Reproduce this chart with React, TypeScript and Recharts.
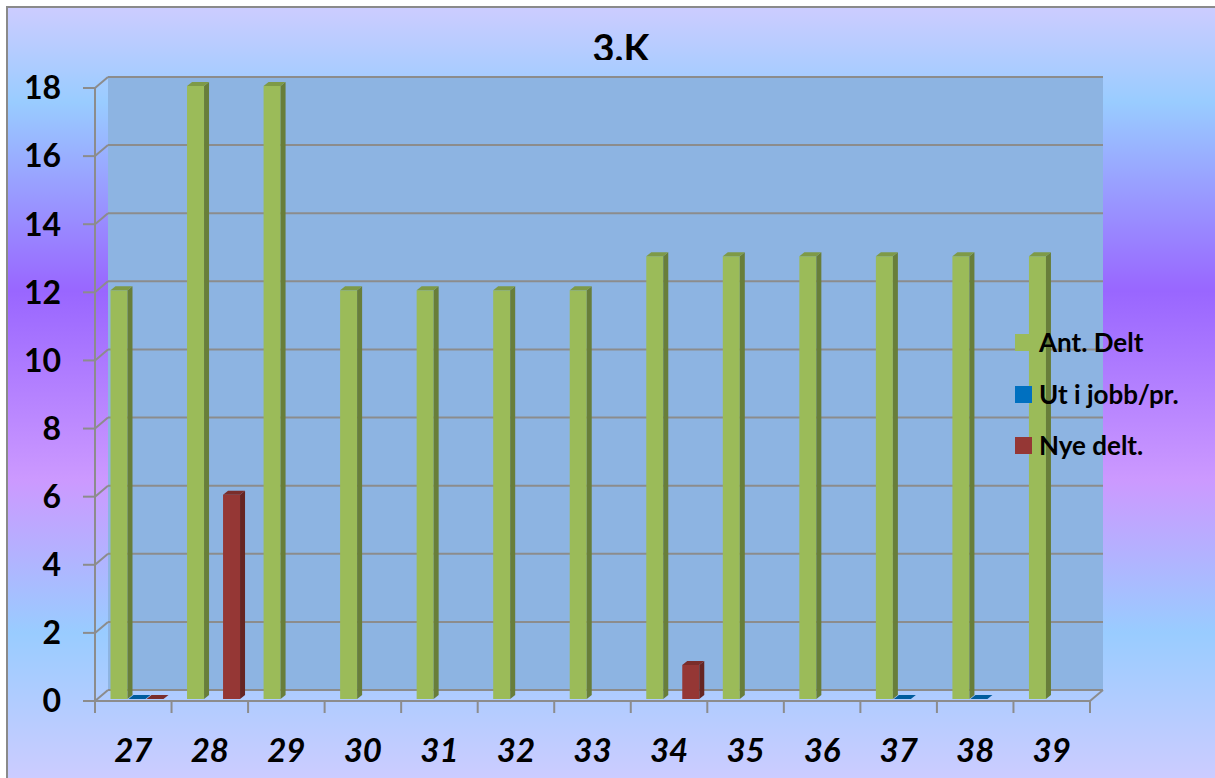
import React from 'react';
import { BarChart, Bar, XAxis, YAxis, CartesianGrid } from 'recharts';

// Weeks on the x axis
const WEEKS = ['27', '28', '29', '30', '31', '32', '33', '34', '35', '36', '37', '38', '39'];
const Y_TICKS = [0, 2, 4, 6, 8, 10, 12, 14, 16, 18];

// Series values (null = no bar drawn at all)
const ANT_DELT = [12, 18, 18, 12, 12, 12, 12, 13, 13, 13, 13, 13, 13];
const UT_I_JOBB = [0, null, null, null, null, null, null, null, null, null, 0, 0, null];
const NYE_DELT = [0, 6, null, null, null, null, null, 1, null, null, null, null, null];

const SERIES = [
  { key: 'antDelt', name: 'Ant. Delt', values: ANT_DELT, front: '#9BBB59', side: '#687E3A', top: '#7E9A47' },
  { key: 'utIJobb', name: 'Ut i jobb/pr.', values: UT_I_JOBB, front: '#0070C0', side: '#004E86', top: '#005C9E' },
  { key: 'nyeDelt', name: 'Nye delt.', values: NYE_DELT, front: '#953735', side: '#652523', top: '#7A2D2B' },
];

const data = WEEKS.map((w, i) => {
  const row: any = { week: w };
  SERIES.forEach((s) => { row[s.key] = s.values[i]; });
  return row;
});

const FONT = 'Lato, "Open Sans", sans-serif';
const GRID = '#8c8c8c';

// chart geometry (svg coords)
const CHART_W = 1207;
const CHART_H = 770;
const PLOT_L = 87;
const PLOT_R = 1082;
const PLOT_T = 80;
const PLOT_B = 693;
const DX = 13; // depth offset of back wall
const DY = 11;
const BAND = (PLOT_R - PLOT_L) / WEEKS.length;

const makeShape = (s: typeof SERIES[number]) => (props: any) => {
  const { x, y, width, height, payload } = props;
  const v = payload ? payload[s.key] : null;
  if (v == null || isNaN(x) || isNaN(y)) return <g />;
  const fx = x + 4.5;
  const w = width - 1;
  const top = y - 2;
  const bottom = y + height - 2;
  const d = 5;
  const t = 4;
  return (
    <g>
      {height > 0 && <rect x={fx} y={top} width={w} height={bottom - top} fill={s.front} />}
      {height > 0 && (
        <polygon
          points={`${fx + w},${top} ${fx + w + d},${top - t} ${fx + w + d},${bottom - t} ${fx + w},${bottom}`}
          fill={s.side}
        />
      )}
      <polygon
        points={`${fx},${top} ${fx + w},${top} ${fx + w + d},${top - t} ${fx + d},${top - t}`}
        fill={s.top}
      />
    </g>
  );
};

const gridLine = (props: any) => {
  const { x1, x2, y1, key } = props;
  const y = y1;
  const isBase = Math.abs(y - PLOT_B) < 1;
  return (
    <g key={key}>
      <line x1={x1 + DX} y1={y - DY} x2={x2 + DX} y2={y - DY} stroke={GRID} strokeWidth={2} />
      <line x1={x1} y1={y} x2={x1 + DX} y2={y - DY} stroke={GRID} strokeWidth={2} />
      {isBase && <line x1={x2} y1={y} x2={x2 + DX} y2={y - DY} stroke={GRID} strokeWidth={2} />}
    </g>
  );
};

const WeekTick = (props: any) => {
  const { x, payload, index } = props;
  const last = index === WEEKS.length - 1;
  return (
    <g>
      <line x1={x - BAND / 2} y1={PLOT_B} x2={x - BAND / 2} y2={PLOT_B + 12} stroke={GRID} strokeWidth={2} />
      {last && <line x1={x + BAND / 2} y1={PLOT_B} x2={x + BAND / 2} y2={PLOT_B + 12} stroke={GRID} strokeWidth={2} />}
      <text
        x={x}
        y={PLOT_B + 61}
        textAnchor="middle"
        fontFamily={FONT}
        fontSize={33}
        fontWeight={700}
        fontStyle="italic"
        fill="#000"
      >
        {payload.value}
      </text>
    </g>
  );
};

const LEGEND_Y = [342, 394, 445];

export default function App() {
  return (
    <div style={{ position: 'fixed', left: 0, top: 0, width: 1215, height: 778, overflow: 'hidden', fontFamily: FONT }}>
      <div
        style={{
          position: 'absolute',
          left: 6,
          top: 6,
          width: 1240,
          height: 790,
          boxSizing: 'border-box',
          border: '2px solid #8a8a8a',
          background:
            'linear-gradient(to bottom, #CCCCFF 0%, #99CCFF 12%, #9966FF 36%, #CC99FF 60%, #99CCFF 79.5%, #CCCCFF 98%)',
        }}
      />
      <div style={{ position: 'absolute', left: 8, top: 8 }}>
        <BarChart
          width={CHART_W}
          height={CHART_H}
          data={data}
          margin={{ top: PLOT_T, right: CHART_W - PLOT_R, bottom: CHART_H - PLOT_B - 60, left: 0 }}
          barGap={0}
          barSize={18}
        >
          <CartesianGrid
            x={PLOT_L + DX}
            y={PLOT_T - DY}
            width={PLOT_R - PLOT_L}
            height={PLOT_B - PLOT_T}
            fill="#8DB4E2"
            fillOpacity={1}
            horizontal={false}
            vertical={false}
          />
          <CartesianGrid vertical={false} horizontal={gridLine} stroke={GRID} />
          <XAxis
            dataKey="week"
            height={60}
            axisLine={{ stroke: GRID, strokeWidth: 2 }}
            tickLine={false}
            tick={<WeekTick />}
            interval={0}
          />
          <YAxis
            width={PLOT_L}
            domain={[0, 18]}
            ticks={Y_TICKS}
            interval={0}
            axisLine={{ stroke: GRID, strokeWidth: 2 }}
            tickLine={{ stroke: GRID, strokeWidth: 2 }}
            tickSize={12}
            tickMargin={22}
            tick={{ fontFamily: FONT, fontSize: 32, fontWeight: 700, fill: '#000' }}
          />
          {SERIES.map((s) => (
            <Bar key={s.key} dataKey={s.key} name={s.name} fill={s.front} shape={makeShape(s)} isAnimationActive={false} />
          ))}
        </BarChart>
      </div>
      <svg style={{ position: 'absolute', left: 0, top: 0 }} width={1215} height={60}>
        <text x={621} y={62} textAnchor="middle" fontFamily={FONT} fontSize={38} fontWeight={700} fill="#000">
          3.K
        </text>
      </svg>
      {SERIES.map((s, i) => (
        <div
          key={s.key}
          style={{
            position: 'absolute',
            left: 1015,
            top: LEGEND_Y[i] - 15,
            height: 30,
            display: 'flex',
            alignItems: 'center',
            whiteSpace: 'nowrap',
          }}
        >
          <div style={{ width: 17, height: 17, background: s.front, marginRight: 7 }} />
          <span style={{ fontSize: 26, fontWeight: 700, lineHeight: '30px', color: '#000' }}>{s.name}</span>
        </div>
      ))}
    </div>
  );
}
